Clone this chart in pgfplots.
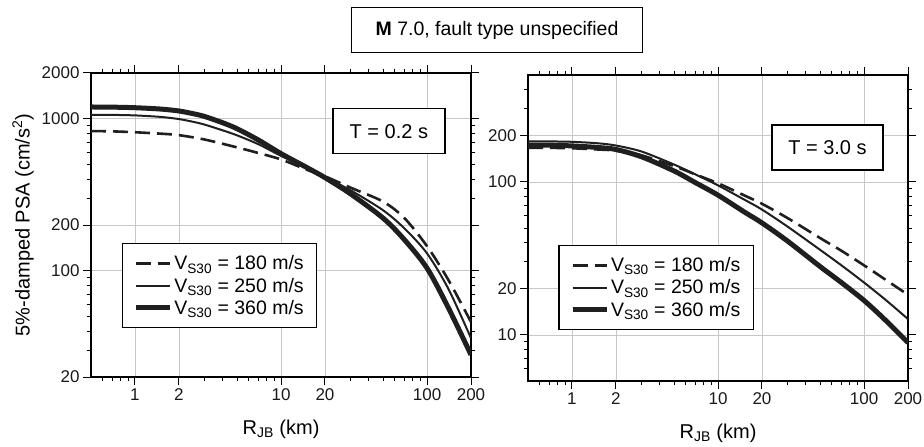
\documentclass[border=0pt]{standalone}
\usepackage{fontspec}
\setmainfont{Liberation Sans}
\usepackage{pgfplots}
\pgfplotsset{compat=1.18}

\definecolor{curve}{gray}{0.12}
\definecolor{gridgray}{gray}{0.78}

\newcommand{\fs}[1]{\fontsize{#1}{#1}\selectfont}

% line styles of the three site classes
\tikzset{
  v180/.style={curve, line width=2.6pt, dash pattern=on 15pt off 7pt},
  v250/.style={curve, line width=2pt},
  v360/.style={curve, line width=5pt},
}

\pgfplotsset{
  legend image code/.code={\draw[#1] (0pt,0pt) -- (34pt,0pt);},
  every axis/.append style={
    scale only axis, width=380pt,
    xmin=0.5, xmax=200,
    xtick={1,2,10,20,100,200},
    xticklabels={1,2,10,20,100,200},
    minor xtick={0.6,0.7,0.8,0.9,3,4,5,6,7,8,9,30,40,50,60,70,80,90},
    grid=major,
    major grid style={gridgray, line width=0.8pt},
    tick align=outside,
    major tick length=8pt, minor tick length=4.5pt,
    every tick/.style={black, line width=1pt},
    axis line style={black, line width=1.6pt},
    ticklabel style={font=\fs{17}, text=black!90},
    /pgf/number format/assume math mode=true,
    xlabel={R\textsubscript{JB} (km)},
    xlabel style={font=\fs{20}, at={(axis description cs:0.5,-0.172)}, anchor=center},
    legend cell align=left,
    legend style={draw=black, line width=1.2pt, fill=white,
      font=\fs{19.5}, row sep=2.5pt,
      inner xsep=11pt, inner ysep=10pt,
      /tikz/every even column/.append style={column sep=4pt}},
  },
}

\begin{document}
\begin{tikzpicture}
\path[use as bounding box] (0pt,0pt) rectangle (924pt,-447pt);

% ---------------- T = 0.2 s ----------------
\begin{loglogaxis}[
  at={(91pt,-377pt)}, anchor=south west, height=304pt,
  ymin=20, ymax=2000,
  ytick={20,100,200,1000,2000},
  yticklabels={20,100,200,1000,2000},
  minor ytick={30,40,50,60,70,80,90,300,400,500,600,700,800,900},
  ylabel={5\%-damped PSA (cm/s\textsuperscript{2})},
  ylabel style={font=\fs{20}, at={(axis description cs:-0.179,0.5)}, anchor=center},
  legend style={at={(axis description cs:0.081,0.440)}, anchor=north west},
]
\addplot[v180, smooth] coordinates {
  (0.5,830) (0.7,826) (1,815) (1.5,798) (2,780) (3,730) (5,648) (7,595)
  (10,540) (15,462) (20,418) (30,352) (50,285) (70,222) (100,145) (140,87) (200,46)};
\addlegendentry{V\textsubscript{S30} = 180 m/s}
\addplot[v250, smooth] coordinates {
  (0.5,1062) (0.7,1060) (1,1052) (1.5,1028) (2,995) (2.5,955) (3,915) (4,838)
  (5,778) (7,680) (10,570) (15,475) (20,412) (30,338) (50,250) (70,190)
  (100,130) (140,76) (200,36)};
\addlegendentry{V\textsubscript{S30} = 250 m/s}
\addplot[v360, smooth] coordinates {
  (0.5,1195) (0.7,1192) (1,1182) (1.5,1158) (2,1125) (2.5,1080) (3,1035) (4,940)
  (5,860) (7,725) (10,590) (15,478) (20,410) (30,320) (50,222) (70,160)
  (100,104) (140,57) (200,28)};
\addlegendentry{V\textsubscript{S30} = 360 m/s}
\node[draw=black, line width=1.2pt, fill=white, font=\fs{20},
  minimum width=112pt, minimum height=45pt, inner sep=0pt]
  at (axis description cs:0.784,0.808) {T = 0.2 s};
\end{loglogaxis}

% ---------------- T = 3.0 s ----------------
\begin{loglogaxis}[
  at={(528pt,-381pt)}, anchor=south west, height=306pt,
  ymin=5, ymax=500,
  ytick={10,20,100,200},
  yticklabels={10,20,100,200},
  minor ytick={6,7,8,9,30,40,50,60,70,80,90,300,400},
  legend style={at={(axis description cs:0.080,0.444)}, anchor=north west},
]
\addplot[v180, smooth] coordinates {
  (0.5,167) (0.7,167) (1,166) (1.5,163) (2,160) (3,149) (5,127) (7,112)
  (10,98) (15,82) (20,72) (30,58) (50,43) (70,35.5) (100,28.5) (140,23) (200,18.3)};
\addlegendentry{V\textsubscript{S30} = 180 m/s}
\addplot[v250, smooth] coordinates {
  (0.5,184) (0.7,184) (1,183) (1.5,179) (2,173) (3,158) (5,130) (7,112)
  (10,95) (15,77) (20,66) (30,51) (50,36) (70,28.5) (100,22) (140,17) (200,12.7)};
\addlegendentry{V\textsubscript{S30} = 250 m/s}
\addplot[v360, smooth] coordinates {
  (0.5,174) (0.7,174) (1,172) (1.5,168) (2,163) (3,146) (5,118) (7,99)
  (10,82) (15,64) (20,54) (30,41) (50,28) (70,22) (100,16.8) (140,12.5) (200,8.9)};
\addlegendentry{V\textsubscript{S30} = 360 m/s}
\node[draw=black, line width=1.2pt, fill=white, font=\fs{20},
  minimum width=111pt, minimum height=45pt, inner sep=0pt]
  at (axis description cs:0.788,0.763) {T = 3.0 s};
\end{loglogaxis}

% figure heading
\node[draw=black, line width=1.2pt, font=\fs{19.5},
  minimum width=291pt, minimum height=45pt, inner sep=0pt]
  at (497pt,-30pt) {\textbf{M} 7.0, fault type unspecified};
\end{tikzpicture}
\end{document}
